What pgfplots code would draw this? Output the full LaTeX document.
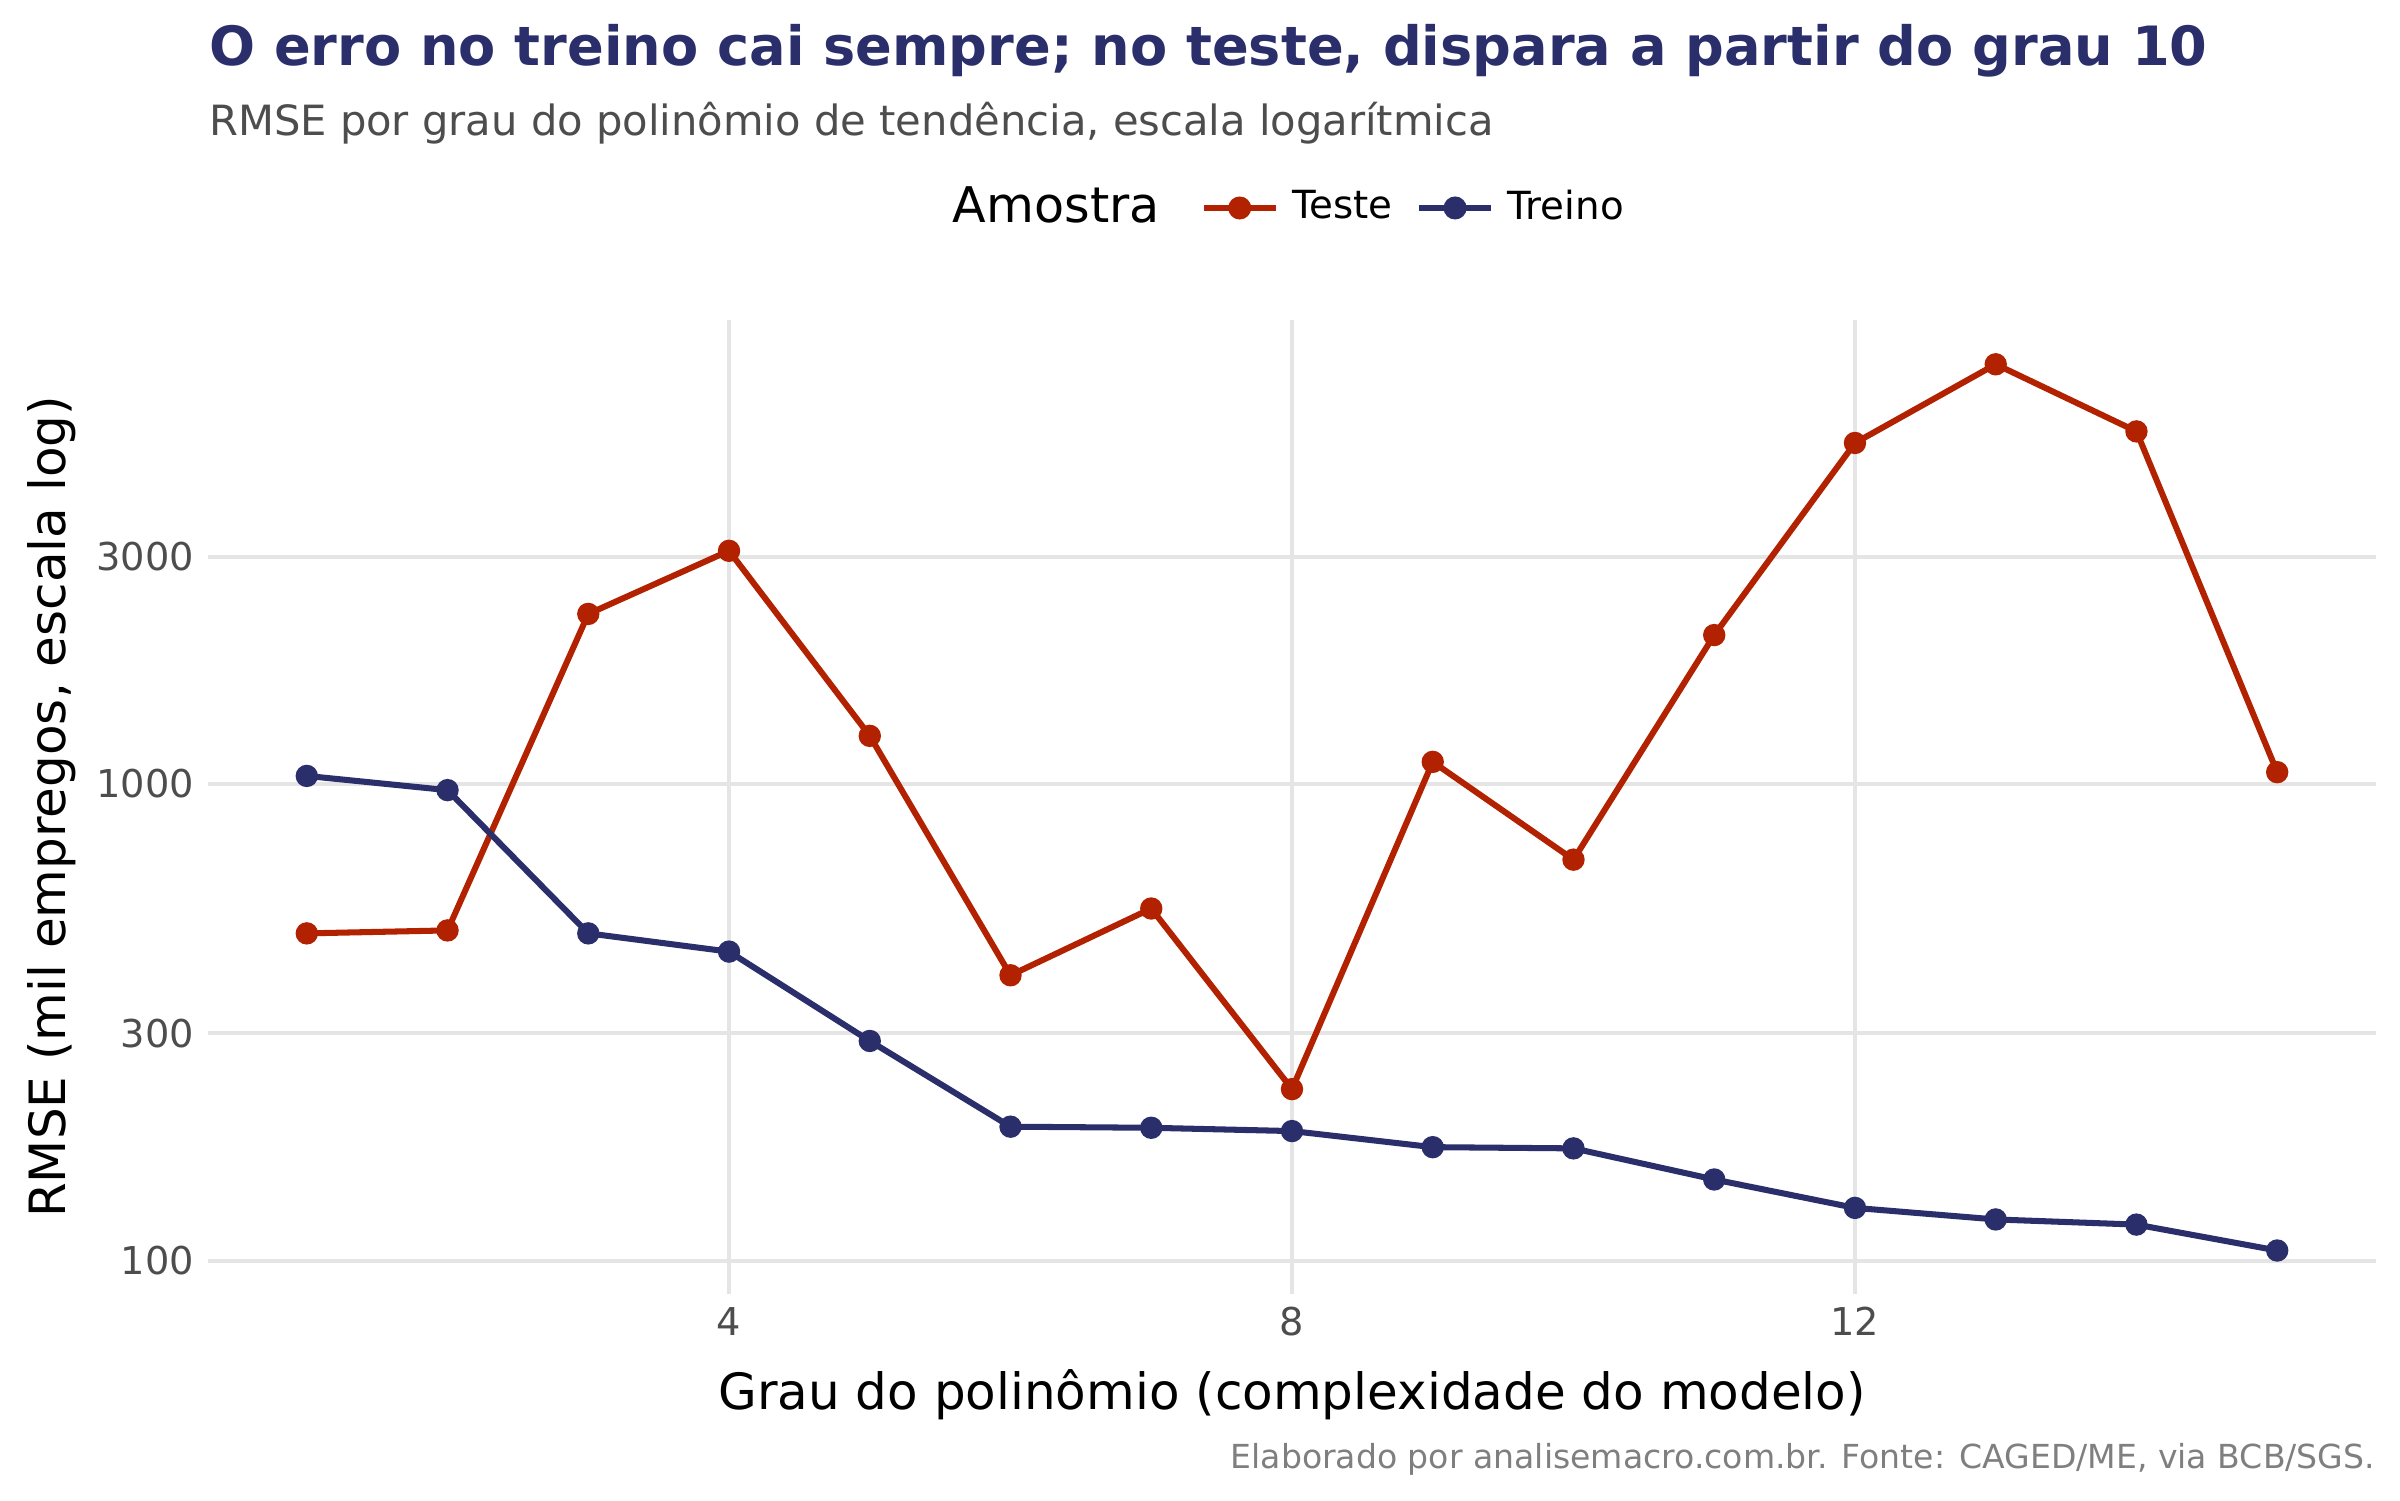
\documentclass[border=0pt]{standalone}
\usepackage{fontspec}
\setmainfont{DejaVu Sans}
\usepackage{pgfplots}
\pgfplotsset{compat=1.18}

\definecolor{teste}{HTML}{B22200}
\definecolor{treino}{HTML}{2A2F6B}
\definecolor{gridc}{HTML}{E5E5E5}
\definecolor{grey30}{HTML}{4D4D4D}
\definecolor{grey50}{HTML}{7F7F7F}

\begin{document}
\begin{tikzpicture}
\useasboundingbox (-49.99pt,-49.44pt) rectangle (526.01pt,310.56pt);
\begin{axis}[
    at={(0pt,0pt)}, anchor=south west,
    scale only axis, width=520.18pt, height=233.76pt,
    ymode=log,
    xmin=0.3, xmax=15.7, ymin=85.1, ymax=9413,
    xtick={4,8,12},
    ytick={100,300,1000,3000}, yticklabels={100,300,1000,3000},
    axis line style={draw=none}, major tick length=0pt, minor tick length=0pt,
    grid=major, major grid style={gridc, line width=0.95pt},
    /pgf/number format/assume math mode=true,
    ticklabel style={font=\fontsize{9.2}{11}\selectfont, text=grey30},
    xticklabel style={anchor=base, inner sep=0pt, yshift=-10pt},
    yticklabel style={anchor=east, inner sep=0pt, xshift=-3.2pt},
    xlabel={Grau do polinômio (complexidade do modelo)},
    ylabel={RMSE (mil empregos, escala log)},
    label style={font=\fontsize{12}{14}\selectfont},
    xlabel style={at={(axis description cs:0.5,0)}, anchor=base, yshift=-27.7pt},
    ylabel style={at={(axis description cs:-0.0661,0.5)}, anchor=base},
    clip=false,
    legend columns=-1,
    legend cell align=left,
    legend style={at={(axis description cs:0.3432,1.115)}, anchor=west,
        draw=none, fill=none, inner sep=0pt,
        nodes={inner sep=0pt},
        font=\fontsize{9.3}{11}\selectfont},
    % key: gap before, 17.3pt line, gap before the text
    legend image code/.code={
        \path (-5.6pt,0pt) (20.6pt,0pt);
        \draw[#1, line width=1.6pt, mark repeat=2, mark phase=2]
        plot coordinates {(0pt,0pt) (8.65pt,0pt) (17.3pt,0pt)};},
]
\addlegendimage{empty legend}
\addlegendentry{\fontsize{11.8}{14}\selectfont Amostra\kern4.2pt}

% Teste
\addplot[teste, line width=1.45pt, mark=*, mark size=1.95pt] coordinates {
    (1,486) (2,493) (3,2275) (4,3086) (5,1262) (6,397) (7,548) (8,229)
    (9,1113) (10,694) (11,2054) (12,5196) (13,7600) (14,5495) (15,1059)
};
\addlegendentry{Teste}

% Treino
\addplot[treino, line width=1.45pt, mark=*, mark size=1.95pt] coordinates {
    (1,1040) (2,971) (3,486) (4,445) (5,289) (6,191) (7,190) (8,187)
    (9,173) (10,172) (11,148) (12,129) (13,122) (14,119) (15,105)
};
\addlegendentry{Treino}
\end{axis}

\node[anchor=base west, inner sep=0pt, text=treino,
    font=\fontsize{13}{15}\selectfont\bfseries] at (0pt,294.96pt)
    {O erro no treino cai sempre; no teste, dispara a partir do grau 10};
\node[anchor=base west, inner sep=0pt, text=grey30,
    font=\fontsize{10}{12}\selectfont] at (0pt,278.16pt)
    {RMSE por grau do polinômio de tendência, escala logarítmica};
\node[anchor=base east, inner sep=0pt, text=grey50,
    font=\fontsize{7.94}{10}\selectfont] at (520.18pt,-41.8pt)
    {Elaborado por analisemacro.com.br. Fonte: CAGED/ME, via BCB/SGS.};
\end{tikzpicture}
\end{document}
